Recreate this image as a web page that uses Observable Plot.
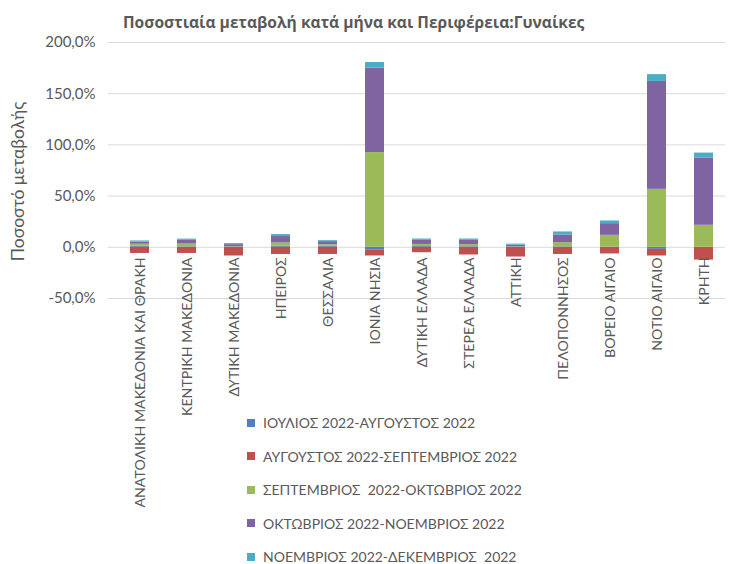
<!DOCTYPE html>
<html>
<head>
<meta charset="utf-8">
<script src="https://cdn.jsdelivr.net/npm/d3@7"></script>
<script src="https://cdn.jsdelivr.net/npm/@observablehq/plot@0.6"></script>
<style>
  html, body { margin: 0; padding: 0; background: #fff; }
  body { width: 736px; height: 564px; position: relative; overflow: hidden; font-family: Lato, "Open Sans", sans-serif; color: #595959; }
  #title { position: absolute; left: 123px; top: 11px; font-family: "Open Sans", Lato, sans-serif; font-size: 15.6px; font-weight: bold; color: #595959; white-space: nowrap; }
  #chart { position: absolute; left: 0; top: 0; }
  #legend { position: absolute; left: 247px; top: 406px; font-size: 14px; color: #595959; }
  .row { height: 33.5px; display: flex; align-items: center; white-space: nowrap; }
  .sw { width: 8px; height: 8px; margin-right: 8px; flex: none; }
</style>
</head>
<body>
<div id="title">Ποσοστιαία μεταβολή κατά μήνα και Περιφέρεια:Γυναίκες</div>
<div id="chart"></div>
<div id="legend"></div>
<script>
const regions = [
  "ΑΝΑΤΟΛΙΚΗ ΜΑΚΕΔΟΝΙΑ ΚΑΙ ΘΡΑΚΗ",
  "ΚΕΝΤΡΙΚΗ ΜΑΚΕΔΟΝΙΑ",
  "ΔΥΤΙΚΗ ΜΑΚΕΔΟΝΙΑ",
  "ΗΠΕΙΡΟΣ",
  "ΘΕΣΣΑΛΙΑ",
  "ΙΟΝΙΑ ΝΗΣΙΑ",
  "ΔΥΤΙΚΗ ΕΛΛΑΔΑ",
  "ΣΤΕΡΕΑ ΕΛΛΑΔΑ",
  "ΑΤΤΙΚΗ",
  "ΠΕΛΟΠΟΝΝΗΣΟΣ",
  "ΒΟΡΕΙΟ ΑΙΓΑΙΟ",
  "ΝΟΤΙΟ ΑΙΓΑΙΟ",
  "ΚΡΗΤΗ"
];
const seriesNames = [
  "ΙΟΥΛΙΟΣ 2022-ΑΥΓΟΥΣΤΟΣ 2022",
  "ΑΥΓΟΥΣΤΟΣ 2022-ΣΕΠΤΕΜΒΡΙΟΣ 2022",
  "ΣΕΠΤΕΜΒΡΙΟΣ  2022-ΟΚΤΩΒΡΙΟΣ 2022",
  "ΟΚΤΩΒΡΙΟΣ 2022-ΝΟΕΜΒΡΙΟΣ 2022",
  "ΝΟΕΜΒΡΙΟΣ 2022-ΔΕΚΕΜΒΡΙΟΣ  2022"
];
const seriesColors = ["#4F81BD", "#C0504D", "#9BBB59", "#8064A2", "#4BACC6"];

// values in %
const julAug = [1.0, 0.5, 0.5, 1.0, 1.2, -2.5, 0.8, 0.6, 0.3, 0.5, 0.3, -2.0, 0.0];
const augSep = [-6.0, -6.0, -8.5, -7.0, -7.0, -6.0, -5.3, -7.5, -9.5, -7.0, -6.5, -6.5, -12.5];
const sepOct = [2.0, 2.7, 0.3, 3.3, 1.3, 92.5, 2.0, 2.0, 0.2, 4.0, 11.4, 56.6, 21.5];
const octNov = [2.0, 3.6, 1.8, 6.2, 3.0, 82.5, 4.0, 4.2, 1.6, 7.5, 11.4, 105.4, 65.7];
const novDec = [1.2, 1.2, 1.0, 1.9, 1.0, 5.5, 1.3, 1.3, 1.0, 3.0, 2.6, 6.6, 4.8];

const yTicks = [-50, 0, 50, 100, 150, 200];
const seriesValues = [julAug, augSep, sepOct, octNov, novDec];

const data = regions.flatMap((r, i) =>
  seriesNames.map((s, j) => ({ region: r, series: s, value: seriesValues[j][i] }))
);
const labelData = regions.map(r => ({ region: r, zero: 0 }));

const fmt = v => v.toFixed(1).replace(".", ",") + "%";

const chart = Plot.plot({
  width: 736,
  height: 564,
  marginLeft: 108,
  marginRight: 11,
  marginTop: 42,
  marginBottom: 266,
  style: { fontFamily: "Lato, 'Open Sans', sans-serif", color: "#595959", background: "transparent" },
  x: { domain: regions, paddingInner: 0.6, paddingOuter: 0.24, align: 0.63, axis: null },
  y: { domain: [-50, 200], axis: null },
  color: { domain: seriesNames, range: seriesColors },
  marks: [
    Plot.gridY(yTicks, { stroke: "#d9d9d9", strokeOpacity: 1, strokeWidth: 1 }),
    Plot.axisY(yTicks, { tickFormat: fmt, tickSize: 0, tickPadding: 13, fontSize: 15, fill: "#595959", label: null }),
    Plot.barY(data, { x: "region", y: "value", fill: "series", order: seriesNames }),
    Plot.text(labelData, {
      x: "region", y: "zero", text: "region", rotate: -90,
      textAnchor: "end", lineAnchor: "middle", dy: 10, fontSize: 14.2, fill: "#595959"
    }),
    Plot.text(["Ποσοστό μεταβολής"], {
      frameAnchor: "left", textAnchor: "middle", dx: -90, dy: 11, rotate: -90, fontSize: 17.5, fill: "#595959"
    })
  ]
});
document.getElementById("chart").appendChild(chart);

const legend = document.getElementById("legend");
seriesNames.forEach((s, i) => {
  const row = document.createElement("div");
  row.className = "row";
  const sw = document.createElement("span");
  sw.className = "sw";
  sw.style.background = seriesColors[i];
  const t = document.createElement("span");
  t.textContent = s;
  t.style.whiteSpace = "pre";
  row.appendChild(sw);
  row.appendChild(t);
  legend.appendChild(row);
});
</script>
</body>
</html>
